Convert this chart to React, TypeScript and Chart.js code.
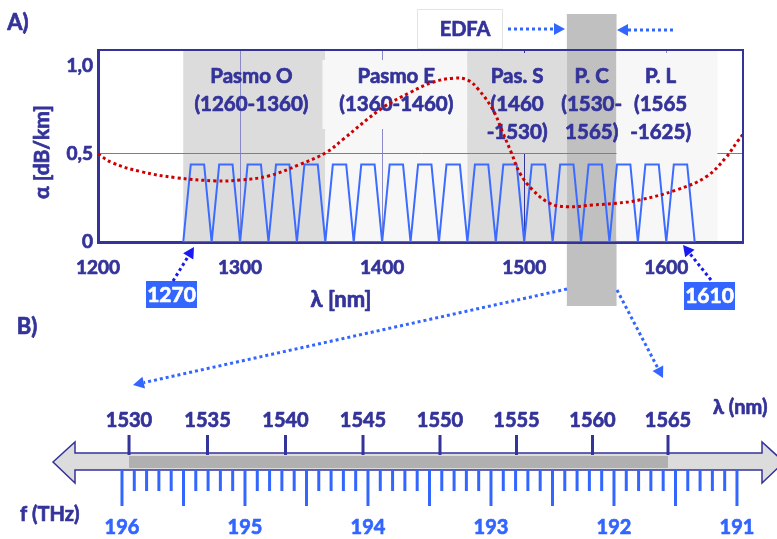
import { useEffect, useRef } from 'react';
import { Chart, registerables } from 'chart.js';
Chart.register(...registerables);

// ---------- data ----------
const xTickValues = [1200, 1300, 1400, 1500, 1600];
const yTickValues = [0, 0.5, 1.0];
const cwdmChannels = [1270, 1290, 1310, 1330, 1350, 1370, 1390, 1410, 1430, 1450, 1470, 1490, 1510, 1530, 1550, 1570, 1590, 1610];
const cwdmTop = 0.44;
const cwdmHalfTop = 4.7;
const cwdmHalfBase = 10;

const bandStart = [1260, 1360, 1460, 1530, 1565];
const bandEnd = [1360, 1460, 1530, 1565, 1636];
const bandColors = ['#dcdcdc', '#f7f7f7', '#dcdcdc', '#c0c0c0', '#f7f7f7'];
const bandLabels = [
  ['Pasmo O', '(1260-1360)'],
  ['Pasmo E', '(1360-1460)'],
  ['Pas. S', '(1460', '-1530)'],
  ['P. C', '(1530-', '1565)'],
  ['P. L', '(1565', '-1625)'],
];
const bandLabelCenters = [1308, 1410, 1495, 1547.5, 1596];

const attenLambda = [1200, 1210, 1230, 1255, 1283, 1300, 1320, 1342, 1361, 1372, 1400, 1420, 1435, 1450, 1460, 1468, 1478, 1485, 1491, 1497, 1506, 1518, 1530, 1548, 1565, 1582, 1607, 1628, 1642, 1650, 1656];
const attenValues = [0.50, 0.45, 0.40, 0.365, 0.347, 0.352, 0.375, 0.44, 0.51, 0.58, 0.76, 0.85, 0.905, 0.93, 0.92, 0.864, 0.75, 0.62, 0.506, 0.39, 0.295, 0.22, 0.20, 0.21, 0.22, 0.24, 0.295, 0.37, 0.48, 0.57, 0.63];

const lambdaTicksB = [1530, 1535, 1540, 1545, 1550, 1555, 1560, 1565];
const freqLabelsB = [196, 195, 194, 193, 192, 191];
const freqStepB = 0.1;

// ---------- style ----------
const NAVY = '#33339a';
const BLUE = '#3b6cff';
const LBLUE = '#3366ff';
const DBLUE = '#1a1aee';
const RED = '#cc0000';
const FONT = "Lato, 'DejaVu Sans', sans-serif";
const C_LIGHT = 299792.458;

function dottedArrow(ctx: CanvasRenderingContext2D, x1: number, y1: number, x2: number, y2: number, color: string) {
  const dx = x2 - x1, dy = y2 - y1;
  const len = Math.hypot(dx, dy);
  const ux = dx / len, uy = dy / len;
  const head = 11, hw = 6;
  const bx = x2 - ux * head, by = y2 - uy * head;
  ctx.save();
  ctx.strokeStyle = color;
  ctx.fillStyle = color;
  ctx.lineWidth = 3;
  ctx.setLineDash([3, 3]);
  ctx.beginPath();
  ctx.moveTo(x1, y1);
  ctx.lineTo(bx, by);
  ctx.stroke();
  ctx.setLineDash([]);
  ctx.beginPath();
  ctx.moveTo(x2, y2);
  ctx.lineTo(bx - uy * hw, by + ux * hw);
  ctx.lineTo(bx + uy * hw, by - ux * hw);
  ctx.closePath();
  ctx.fill();
  ctx.restore();
}

function text(ctx: CanvasRenderingContext2D, s: string, x: number, y: number, size: number, color: string, align: CanvasTextAlign = 'center', rot = 0) {
  ctx.save();
  ctx.font = `bold ${size}px ${FONT}`;
  ctx.fillStyle = color;
  ctx.strokeStyle = color;
  ctx.lineWidth = 0.7;
  ctx.lineJoin = 'round';
  ctx.textAlign = align;
  ctx.textBaseline = 'middle';
  ctx.translate(x, y);
  if (rot) ctx.rotate(rot);
  ctx.fillText(s, 0, 0);
  ctx.strokeText(s, 0, 0);
  ctx.restore();
}

const decorPlugin = {
  id: 'decor',
  beforeDraw(chart: any) {
    const { ctx, chartArea, scales } = chart;
    const xs = scales.x;
    ctx.save();
    bandStart.forEach((s, i) => {
      const x1 = xs.getPixelForValue(s);
      const x2 = xs.getPixelForValue(bandEnd[i]);
      ctx.fillStyle = bandColors[i];
      if (i === 3) {
        ctx.fillRect(x1, 14, x2 - x1, 306 - 14);
      } else {
        ctx.fillRect(x1, chartArea.top, x2 - x1, chartArea.bottom - chartArea.top);
      }
    });
    ctx.restore();
  },
  beforeDatasetsDraw(chart: any) {
    const { ctx, scales } = chart;
    const xs = scales.x;
    ctx.save();
    const boxes = [
      { a: 1358, b: 1460, t: 60, bt: 129, c: '#f7f7f7' },
      { a: 1460, b: 1530, t: 53, bt: 153, c: '#dcdcdc' },
      { a: 1565, b: 1636, t: 53, bt: 238, c: '#f7f7f7' },
    ];
    boxes.forEach((bx) => {
      const x1 = xs.getPixelForValue(bx.a);
      const x2 = xs.getPixelForValue(bx.b);
      ctx.fillStyle = bx.c;
      ctx.fillRect(x1, bx.t, x2 - x1, bx.bt - bx.t);
    });
    ctx.restore();
    const ys = [76, 104, 132];
    bandLabels.forEach((lines, i) => {
      const cx = xs.getPixelForValue(bandLabelCenters[i]);
      lines.forEach((l, j) => text(ctx, l, cx, ys[j], 20.5, NAVY));
    });
  },
  afterDraw(chart: any) {
    const { ctx, chartArea, scales } = chart;
    const { left, right, top, bottom } = chartArea;
    ctx.save();
    ctx.strokeStyle = NAVY;
    ctx.lineWidth = 2;
    ctx.beginPath();
    ctx.moveTo(left, top);
    ctx.lineTo(right, top);
    ctx.lineTo(right, bottom);
    ctx.stroke();
    ctx.restore();

    text(ctx, 'A)', 18, 23, 22, NAVY);
    text(ctx, 'B)', 27, 327, 22, NAVY);
    text(ctx, 'λ [nm]', 341, 300, 22, NAVY);
    text(ctx, 'α [dB/km]', 42, 152, 21, NAVY, 'center', -Math.PI / 2);

    // EDFA box
    ctx.save();
    ctx.fillStyle = '#ffffff';
    ctx.fillRect(417, 9, 86, 40);
    ctx.strokeStyle = '#e4e4e4';
    ctx.lineWidth = 1;
    ctx.strokeRect(417.5, 9.5, 85, 39);
    ctx.restore();
    text(ctx, 'EDFA', 465, 30, 20, NAVY);
    dottedArrow(ctx, 508, 29, 565, 29, LBLUE);
    dottedArrow(ctx, 673, 30, 617, 30, LBLUE);

    // 1270 / 1610 labels
    ctx.save();
    ctx.fillStyle = LBLUE;
    ctx.fillRect(146, 281, 51, 27);
    ctx.fillRect(684, 282, 51, 28);
    ctx.restore();
    text(ctx, String(cwdmChannels[0]), 171.5, 295, 21, '#ffffff');
    text(ctx, String(cwdmChannels[cwdmChannels.length - 1]), 709.5, 296.5, 21, '#ffffff');
    dottedArrow(ctx, 173, 281, 194, 247, DBLUE);
    dottedArrow(ctx, 711, 280, 683, 245, DBLUE);

    dottedArrow(ctx, 567, 289, 133, 385, LBLUE);
    dottedArrow(ctx, 617, 290, 663, 378, LBLUE);

    // ---------- part B ----------
    const fs = scales.f;
    const fx = (f: number) => fs.getPixelForValue(f);
    ctx.save();
    ctx.beginPath();
    ctx.moveTo(53, 462);
    ctx.lineTo(75, 442);
    ctx.lineTo(75, 453);
    ctx.lineTo(762, 453);
    ctx.lineTo(762, 442);
    ctx.lineTo(784, 462);
    ctx.lineTo(762, 483);
    ctx.lineTo(762, 470);
    ctx.lineTo(75, 470);
    ctx.lineTo(75, 483);
    ctx.closePath();
    ctx.fillStyle = '#dcdcdc';
    ctx.fill();
    ctx.strokeStyle = NAVY;
    ctx.lineWidth = 1.5;
    ctx.stroke();
    const xa = fx(C_LIGHT / lambdaTicksB[0]);
    const xb = fx(C_LIGHT / lambdaTicksB[lambdaTicksB.length - 1]);
    ctx.fillStyle = '#b0b0b0';
    ctx.fillRect(xa, 456, xb - xa, 12);

    ctx.strokeStyle = NAVY;
    ctx.lineWidth = 3;
    lambdaTicksB.forEach((l) => {
      const x = fx(C_LIGHT / l);
      ctx.beginPath();
      ctx.moveTo(x, 435);
      ctx.lineTo(x, 455);
      ctx.stroke();
    });
    ctx.strokeStyle = LBLUE;
    const fMax = freqLabelsB[0];
    const fMin = freqLabelsB[freqLabelsB.length - 1];
    const n = Math.round((fMax - fMin) / freqStepB);
    for (let k = 0; k <= n; k++) {
      const f = fMax - k * freqStepB;
      const x = fx(f);
      ctx.beginPath();
      ctx.moveTo(x, 470);
      ctx.lineTo(x, k % 5 === 0 ? 506 : 491);
      ctx.stroke();
    }
    ctx.restore();
    lambdaTicksB.forEach((l) => text(ctx, String(l), fx(C_LIGHT / l), 421, 20, NAVY));
    freqLabelsB.forEach((f) => text(ctx, String(f), fx(f), 528, 20, LBLUE));
    text(ctx, 'λ (nm)', 713, 408, 20, NAVY, 'left');
    text(ctx, 'f (THz)', 20, 515, 20, NAVY, 'left');
  },
};

export default function App() {
  const ref = useRef<HTMLCanvasElement | null>(null);
  useEffect(() => {
    document.body.style.margin = '0';
    const canvas = ref.current;
    if (!canvas) return;
    const trap: { x: number; y: number }[] = [];
    cwdmChannels.forEach((c) => {
      trap.push({ x: c - cwdmHalfBase, y: 0 });
      trap.push({ x: c - cwdmHalfTop, y: cwdmTop });
      trap.push({ x: c + cwdmHalfTop, y: cwdmTop });
    });
    trap.push({ x: cwdmChannels[cwdmChannels.length - 1] + cwdmHalfBase, y: 0 });
    trap.push({ x: cwdmChannels[0] - cwdmHalfBase, y: 0 });
    const atten = attenLambda.map((x, i) => ({ x, y: attenValues[i] }));

    const tickFont = { family: FONT, size: 19, weight: 'bold' };
    const chart = new Chart(canvas, {
      type: 'line',
      data: {
        datasets: [
          {
            label: 'CWDM',
            data: trap,
            borderColor: BLUE,
            borderWidth: 2,
            pointRadius: 0,
            tension: 0,
            fill: false,
            order: 2,
          },
          {
            label: 'α',
            data: atten,
            borderColor: RED,
            borderWidth: 3,
            borderDash: [3, 3],
            pointRadius: 0,
            tension: 0.4,
            fill: false,
            order: 1,
          },
        ],
      },
      options: {
        animation: false,
        responsive: false,
        events: [],
        layout: { padding: { left: 0, top: 50, right: 34, bottom: 257 } },
        plugins: { legend: { display: false }, tooltip: { enabled: false } },
        scales: {
          x: {
            type: 'linear',
            min: 1200,
            max: 1654,
            afterBuildTicks: (s: any) => { s.ticks = xTickValues.map((v) => ({ value: v })); },
            afterFit: (s: any) => { s.height = 40; },
            ticks: {
              padding: 14,
              color: NAVY,
              textStrokeColor: NAVY,
              textStrokeWidth: 0.7,
              font: tickFont,
              callback: (v: any) => String(v),
            },
            grid: {
              drawTicks: false,
              lineWidth: 1,
              color: (c: any) => (c.tick && c.tick.value === 1500 ? '#33339a' : c.tick && c.tick.value === 1200 ? 'rgba(0,0,0,0)' : '#8a8ac8'),
            },
            border: { color: NAVY, width: 3 },
          },
          y: {
            type: 'linear',
            min: 0,
            max: 1.09,
            afterBuildTicks: (s: any) => { s.ticks = yTickValues.map((v) => ({ value: v })); },
            afterFit: (s: any) => { s.width = 98; },
            ticks: {
              padding: 5,
              color: NAVY,
              textStrokeColor: NAVY,
              textStrokeWidth: 0.7,
              font: tickFont,
              callback: (v: any) => (v === 0 ? '0' : Number(v).toFixed(1).replace('.', ',')),
            },
            grid: {
              drawTicks: false,
              lineWidth: 1,
              color: (c: any) => (c.tick && c.tick.value === 0.5 ? '#7777bb' : 'rgba(0,0,0,0)'),
            },
            border: { color: NAVY, width: 3 },
          },
          f: {
            type: 'linear',
            axis: 'x',
            display: false,
            reverse: true,
            min: 190.951,
            max: 196.195,
          },
        },
      },
      plugins: [decorPlugin],
    } as any);
    return () => chart.destroy();
  }, []);
  return <canvas ref={ref} width={777} height={539} style={{ display: 'block', width: 777, height: 539 }} />;
}
